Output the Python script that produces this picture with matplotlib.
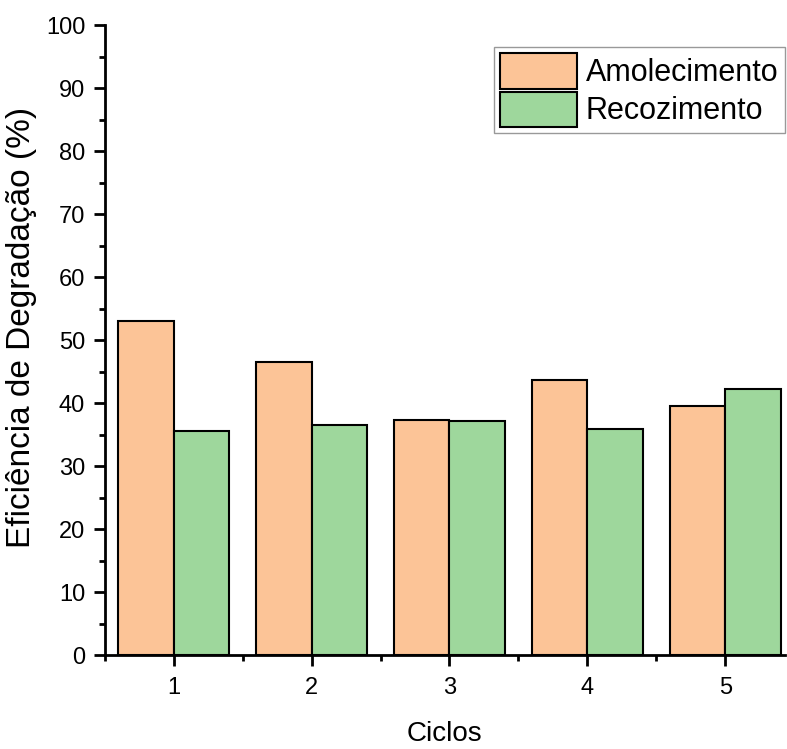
import numpy as np
import matplotlib.pyplot as plt
from matplotlib.ticker import MultipleLocator

plt.rcParams['font.family'] = ['Liberation Sans', 'DejaVu Sans']

# Dados
ciclos = [1, 2, 3, 4, 5]
amolecimento = [53.0, 46.5, 37.3, 43.7, 39.5]
recozimento = [35.6, 36.5, 37.1, 35.9, 42.2]

x = np.array(ciclos)
largura = 0.4

fig = plt.figure(figsize=(7.87, 7.49), dpi=100)
ax = fig.add_axes([0.133, 0.1255, 0.864, 0.841])

ax.bar(x - largura / 2, amolecimento, largura, color="#FCC497",
       edgecolor="black", linewidth=1.5, label="Amolecimento")
ax.bar(x + largura / 2, recozimento, largura, color="#9ED79C",
       edgecolor="black", linewidth=1.5, label="Recozimento")

ax.set_xlim(0.5, 5.43)
ax.set_ylim(0, 100)
ax.set_xticks(ciclos)
ax.xaxis.set_minor_locator(MultipleLocator(0.5))
ax.yaxis.set_major_locator(MultipleLocator(10))
ax.yaxis.set_minor_locator(MultipleLocator(5))

for s in ["top", "right"]:
    ax.spines[s].set_visible(False)
for s in ["left", "bottom"]:
    ax.spines[s].set_linewidth(2)

ax.tick_params(which="major", direction="out", length=8, width=2, labelsize=17)
ax.tick_params(axis="x", which="major", pad=8)
ax.tick_params(axis="y", which="major", pad=6)
ax.tick_params(which="minor", direction="out", length=4, width=2)

ax.set_xlabel("Ciclos", fontsize=20, labelpad=16)
ax.set_ylabel("Eficiência de Degradação (%)", fontsize=24)
ax.yaxis.set_label_coords(-0.10, 0.52)

leg = ax.legend(loc="upper right", bbox_to_anchor=(1.0, 0.965), fontsize=22,
                frameon=True, fancybox=False, edgecolor="gray",
                handlelength=2.5, handleheight=1.4, handletextpad=0.3,
                borderpad=0.2, labelspacing=0.1, borderaxespad=0.0)
leg.get_frame().set_linewidth(1)

fig.savefig("out.png", dpi=100)
